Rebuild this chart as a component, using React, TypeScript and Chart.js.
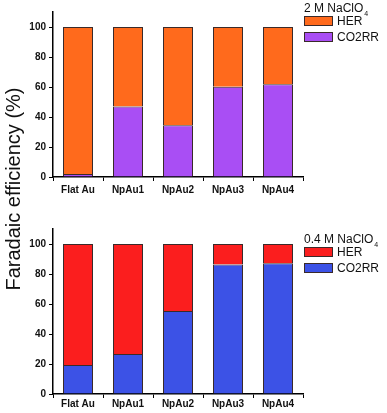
import React, { useEffect, useRef } from "react";
import { Chart, registerables } from "chart.js";

Chart.register(...registerables);

const categories = ["Flat Au", "NpAu1", "NpAu2", "NpAu3", "NpAu4"];
const co2rrHigh = [2, 47, 34.5, 60.2, 61.8];
const herHigh = [98, 53, 65.5, 39.8, 38.2];
const co2rrLow = [19.3, 26.7, 55.3, 86.4, 87.1];
const herLow = [80.7, 73.3, 44.7, 13.6, 12.9];
const yTicks = [0, 20, 40, 60, 80, 100];

const FONT = "'Liberation Sans', Arial, sans-serif";

function makeConfig(
  co2: number[],
  her: number[],
  co2Color: string,
  herColor: string,
  padTop: number,
  xHeight: number,
  xPad: number
): any {
  return {
    type: "bar",
    data: {
      labels: categories,
      datasets: [
        {
          label: "CO2RR",
          data: co2,
          backgroundColor: co2Color,
          borderColor: "#3a2a2a",
          borderWidth: 1,
          barPercentage: 0.6,
          categoryPercentage: 1,
        },
        {
          label: "HER",
          data: her,
          backgroundColor: herColor,
          borderColor: "#3a2a2a",
          borderWidth: 1,
          barPercentage: 0.6,
          categoryPercentage: 1,
        },
      ],
    },
    options: {
      responsive: false,
      animation: false,
      layout: { padding: { top: padTop, right: 84, left: 0, bottom: 0 } },
      plugins: { legend: { display: false }, tooltip: { enabled: false } },
      scales: {
        x: {
          stacked: true,
          offset: true,
          grid: {
            display: true,
            drawOnChartArea: false,
            drawTicks: true,
            tickLength: 4,
            color: "#000",
            lineWidth: 1,
          },
          border: { display: true, color: "#000", width: 1.5 },
          ticks: {
            color: "#111",
            font: { family: FONT, size: 10, weight: "bold" },
            padding: xPad,
            maxRotation: 0,
          },
          afterFit: (s: any) => {
            s.height = xHeight;
          },
        },
        y: {
          stacked: true,
          min: 0,
          max: 110,
          ticks: {
            stepSize: 20,
            color: "#111",
            font: { family: FONT, size: 10, weight: "bold" },
            padding: 3,
          },
          afterBuildTicks: (s: any) => {
            s.ticks = yTicks.map((v) => ({ value: v }));
          },
          grid: {
            display: true,
            drawOnChartArea: false,
            drawTicks: true,
            tickLength: 4,
            color: "#000",
            lineWidth: 1,
          },
          border: { display: true, color: "#000", width: 1.5 },
          afterFit: (s: any) => {
            s.width = 53;
          },
        },
      },
    },
  };
}

function Legend(props: {
  top: number;
  conc: string;
  herColor: string;
  co2Color: string;
}) {
  const { top, conc, herColor, co2Color } = props;
  const txt: React.CSSProperties = {
    position: "absolute",
    fontFamily: FONT,
    fontSize: 12,
    color: "#111",
    whiteSpace: "nowrap",
    lineHeight: "12px",
  };
  const box = (c: string): React.CSSProperties => ({
    position: "absolute",
    left: 304,
    width: 29,
    height: 10,
    background: c,
    border: "1px solid #3a2a2a",
    boxSizing: "border-box",
  });
  return (
    <>
      <div style={{ ...txt, left: 304, top: top }}>
        {conc} NaClO
        <span style={{ fontSize: 7, position: "relative", top: 4, marginLeft: 1 }}>4</span>
      </div>
      <div style={{ ...box(herColor), top: top + 14 }} />
      <div style={{ ...txt, left: 337, top: top + 13 }}>HER</div>
      <div style={{ ...box(co2Color), top: top + 30 }} />
      <div style={{ ...txt, left: 337, top: top + 29 }}>CO2RR</div>
    </>
  );
}

export default function App() {
  const topRef = useRef<HTMLCanvasElement>(null);
  const botRef = useRef<HTMLCanvasElement>(null);

  useEffect(() => {
    const c1 = new Chart(
      topRef.current!,
      makeConfig(co2rrHigh, herHigh, "#a94ef4", "#ff6a1c", 12, 23, 3)
    );
    const c2 = new Chart(
      botRef.current!,
      makeConfig(co2rrLow, herLow, "#3c52e6", "#fb1e1e", 29, 19, 0)
    );
    return () => {
      c1.destroy();
      c2.destroy();
    };
  }, []);

  return (
    <div
      style={{
        position: "absolute",
        left: 0,
        top: 0,
        width: 387,
        height: 413,
        background: "#fff",
        overflow: "hidden",
      }}
    >
      <canvas
        ref={topRef}
        width={387}
        height={200}
        style={{ position: "absolute", left: 0, top: 0, width: 387, height: 200 }}
      />
      <canvas
        ref={botRef}
        width={387}
        height={213}
        style={{ position: "absolute", left: 0, top: 200, width: 387, height: 213 }}
      />
      <div
        style={{
          position: "absolute",
          left: 13 - 130,
          top: 189 - 12,
          width: 260,
          height: 24,
          lineHeight: "24px",
          textAlign: "center",
          fontFamily: FONT,
          fontSize: 20,
          color: "#111",
          transform: "rotate(-90deg)",
          transformOrigin: "50% 50%",
          whiteSpace: "nowrap",
        }}
      >
        Faradaic efficiency (%)
      </div>
      <Legend top={2} conc="2 M" herColor="#ff6a1c" co2Color="#a94ef4" />
      <Legend top={233} conc="0.4 M" herColor="#fb1e1e" co2Color="#3c52e6" />
    </div>
  );
}
